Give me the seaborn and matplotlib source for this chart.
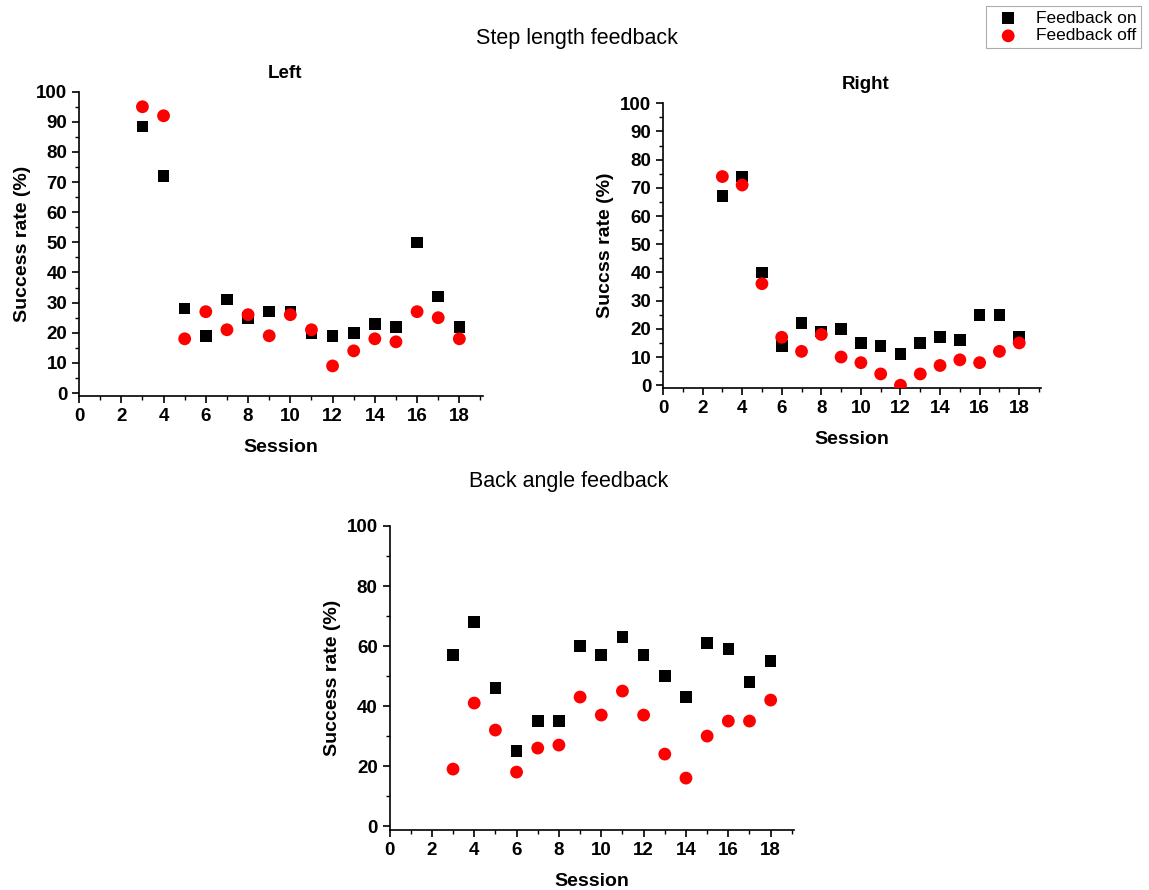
import numpy as np
import pandas as pd
import matplotlib
matplotlib.use("Agg")
import matplotlib.pyplot as plt
import seaborn as sns

sessions = list(range(3, 19))
left_on = [88.5, 72, 28, 19, 31, 25, 27, 27, 20, 19, 20, 23, 22, 50, 32, 22]
left_off = [95, 92, 18, 27, 21, 26, 19, 26, 21, 9, 14, 18, 17, 27, 25, 18]
right_on = [67, 74, 40, 14, 22, 19, 20, 15, 14, 11, 15, 17, 16, 25, 25, 17]
right_off = [74, 71, 36, 17, 12, 18, 10, 8, 4, 0, 4, 7, 9, 8, 12, 15]
back_on = [57, 68, 46, 25, 35, 35, 60, 57, 63, 57, 50, 43, 61, 59, 48, 55]
back_off = [19, 41, 32, 18, 26, 27, 43, 37, 45, 37, 24, 16, 30, 35, 35, 42]
series_labels = ["Feedback on", "Feedback off"]
x_ticks = list(range(0, 19, 2))

sns.set_style("ticks")
plt.rcParams['font.family'] = ['Liberation Sans', 'DejaVu Sans']
plt.rcParams['text.color'] = 'black'
plt.rcParams['axes.labelcolor'] = 'black'
plt.rcParams['xtick.color'] = 'black'
plt.rcParams['ytick.color'] = 'black'

fig = plt.figure(figsize=(11.49, 8.9), dpi=100)

def make_df(on, off):
    return pd.DataFrame({
        "Session": sessions * 2,
        "Rate": on + off,
        "Condition": [series_labels[0]] * len(on) + [series_labels[1]] * len(off),
    })

palette = {series_labels[0]: "black", series_labels[1]: "#ff0000"}
markers = {series_labels[0]: "s", series_labels[1]: "o"}

def draw(rect, on, off, ylabel, yticks, yminor, ylim, title=None, title_x=0.5):
    ax = fig.add_axes(rect)
    df = make_df(on, off)
    for cond, s in [(series_labels[0], 70), (series_labels[1], 85)]:
        sub = df[df["Condition"] == cond]
        sns.scatterplot(data=sub, x="Session", y="Rate", color=palette[cond],
                        marker=markers[cond], s=s, edgecolor="none", ax=ax,
                        label=cond, legend=False, zorder=3)
    ax.set_xlim(0, 19.1)
    ax.set_ylim(*ylim)
    ax.set_xticks(x_ticks)
    ax.set_xticks(range(0, 20), minor=True)
    ax.set_yticks(yticks)
    ax.set_yticks(yminor, minor=True)
    sns.despine(ax=ax)
    for sp in ["left", "bottom"]:
        ax.spines[sp].set_linewidth(1.2)
        ax.spines[sp].set_color("black")
    ax.tick_params(which="major", length=5, width=1.2, labelsize=13.5, colors="black")
    ax.tick_params(which="minor", length=3, width=1.0, colors="black")
    for lab in ax.get_xticklabels() + ax.get_yticklabels():
        lab.set_fontweight("bold")
    ax.set_xlabel("Session", fontsize=14, fontweight="bold", labelpad=10, color="black")
    ax.set_ylabel(ylabel, fontsize=14, fontweight="bold", labelpad=4, color="black")
    if title:
        ax.set_title(title, fontsize=13.5, fontweight="bold", pad=10, color="black", x=title_x)
    return ax

ax1 = draw([0.0688, 0.555, 0.3512, 0.342], left_on, left_off, "Success rate (%)",
           list(range(0, 101, 10)), list(range(0, 101, 5)), (-1, 100), "Left", 0.51)
ax2 = draw([0.577, 0.564, 0.329, 0.320], right_on, right_off, "Succss rate (%)",
           list(range(0, 101, 10)), list(range(0, 101, 5)), (-1, 100), "Right", 0.537)
ax3 = draw([0.339, 0.0674, 0.352, 0.3416], back_on, back_off, "Success rate (%)",
           list(range(0, 101, 20)), list(range(0, 101, 10)), (-1.3, 100))

fig.text(0.502, 0.957, "Step length feedback", ha="center", va="center", fontsize=15.5, color="black")
fig.text(0.495, 0.459, "Back angle feedback", ha="center", va="center", fontsize=15.5, color="black")

handles, labels = ax1.get_legend_handles_labels()
leg = fig.legend(handles, labels, loc="upper right", bbox_to_anchor=(0.996, 0.997),
                 fontsize=12.5, frameon=True, fancybox=False, borderpad=0.25,
                 handletextpad=0.6, labelspacing=0.15, borderaxespad=0.2)
leg.get_frame().set_edgecolor("#999999")
leg.get_frame().set_linewidth(0.8)

fig.savefig("out.png", dpi=100)
